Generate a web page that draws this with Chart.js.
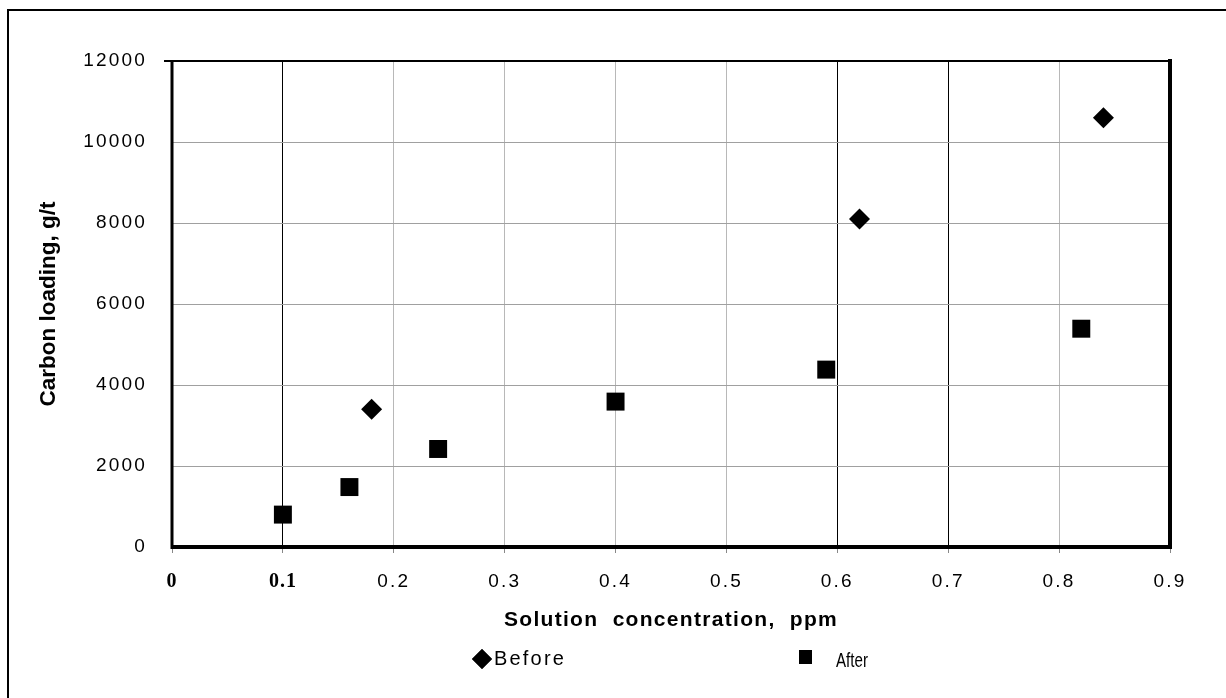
<!DOCTYPE html>
<html>
<head>
<meta charset="utf-8">
<script src="https://cdn.jsdelivr.net/npm/chart.js@4/dist/chart.umd.min.js"></script>
<style>
  html, body { margin: 0; padding: 0; background: #fff; }
  #wrap { width: 1226px; height: 698px; position: relative; }
</style>
</head>
<body>
<div id="wrap"><canvas id="c" width="1226" height="698"></canvas></div>
<script>
// ---- data ----
const beforeX = [0.18, 0.62, 0.84];
const beforeY = [3400, 8100, 10600];
const afterX = [0.10, 0.16, 0.24, 0.40, 0.59, 0.82];
const afterY = [800, 1480, 2420, 3590, 4380, 5390];
const seriesNames = ['Before', 'After'];
const xTitle = 'Solution  concentration,  ppm';
const yTitle = 'Carbon loading, g/t';
const xMin = 0, xMax = 0.9, xStep = 0.1;
const yMin = 0, yMax = 12000, yStep = 2000;
const darkXGrid = [0.1, 0.6, 0.7];

const toPts = (xs, ys) => xs.map((x, i) => ({ x: x, y: ys[i] }));

const SANS = "'Liberation Sans', Arial, sans-serif";
const SERIF = "'Liberation Serif', 'Times New Roman', serif";

// letter spacing by font size (tick labels are spaced out in the original)
const spacingBySize = { '19px': '2.2px', '21px': '1.3px', '20px': '1px' };
(function () {
  const proto = CanvasRenderingContext2D.prototype;
  const orig = proto.fillText;
  proto.fillText = function (t, x, y, m) {
    const mm = /(\d+(?:\.\d+)?px)/.exec(this.font || '');
    const sp = mm && spacingBySize[mm[1]] !== undefined ? spacingBySize[mm[1]] : '0px';
    if (this.__fixedSpacing === undefined) this.letterSpacing = sp;
    return m === undefined ? orig.call(this, t, x, y) : orig.call(this, t, x, y, m);
  };
})();

const framePlugin = {
  id: 'frame',
  beforeDraw(chart) {
    const ctx = chart.ctx;
    ctx.save();
    ctx.fillStyle = '#fff';
    ctx.fillRect(0, 0, chart.width, chart.height);
    ctx.strokeStyle = '#000';
    ctx.lineWidth = 2;
    ctx.beginPath();
    ctx.moveTo(8, chart.height);
    ctx.lineTo(8, 10);
    ctx.lineTo(chart.width, 10);
    ctx.stroke();
    ctx.restore();
  },
  afterDatasetsDraw(chart) {
    const ctx = chart.ctx;
    const a = chart.chartArea;
    ctx.save();
    ctx.strokeStyle = '#000';
    ctx.lineWidth = 2;
    ctx.beginPath();
    ctx.moveTo(a.left - 8, a.top);
    ctx.lineTo(a.right, a.top);
    ctx.stroke();
    ctx.lineWidth = 3;
    ctx.beginPath();
    ctx.moveTo(a.left, a.top);
    ctx.lineTo(a.left, a.bottom + 2);
    ctx.stroke();
    ctx.lineWidth = 4;
    ctx.beginPath();
    ctx.moveTo(a.right, a.top - 2);
    ctx.lineTo(a.right, a.bottom + 2);
    ctx.stroke();
    ctx.lineWidth = 4;
    ctx.beginPath();
    ctx.moveTo(a.left - 1, a.bottom);
    ctx.lineTo(a.right + 2, a.bottom);
    ctx.stroke();
    ctx.restore();
  },
  afterDraw(chart) {
    const ctx = chart.ctx;
    const a = chart.chartArea;
    const y = a.bottom + 112;
    const ds0 = chart.data.datasets[0];
    const ds1 = chart.data.datasets[1];
    ctx.save();
    ctx.fillStyle = '#000';
    // Before item
    const x0 = a.left + 310;
    Chart.helpers.drawPoint(ctx, { pointStyle: ds0.pointStyle, radius: 10, borderWidth: 0 }, x0, y);
    ctx.fill();
    ctx.font = '20px ' + SANS;
    ctx.textBaseline = 'middle';
    ctx.textAlign = 'left';
    ctx.letterSpacing = '2.2px';
    ctx.__fixedSpacing = true;
    ctx.fillText(ds0.label, x0 + 12, y);
    // After item
    const x1 = a.left + 633;
    ctx.fillRect(x1 - 6, y - 9, 13, 14);
    ctx.letterSpacing = '0px';
    ctx.translate(x1 + 31, y + 2);
    ctx.scale(0.72, 1);
    ctx.font = '21px ' + SANS;
    ctx.fillText(ds1.label, 0, 0);
    ctx.__fixedSpacing = undefined;
    ctx.restore();
  }
};

new Chart(document.getElementById('c'), {
  type: 'scatter',
  data: {
    datasets: [
      {
        label: seriesNames[0],
        data: toPts(beforeX, beforeY),
        pointStyle: 'rectRot',
        pointRadius: 10.5,
        pointHoverRadius: 10.5,
        backgroundColor: '#000',
        borderColor: '#000',
        borderWidth: 0
      },
      {
        label: seriesNames[1],
        data: toPts(afterX, afterY),
        pointStyle: 'rect',
        pointRadius: 12.7,
        pointHoverRadius: 12.7,
        backgroundColor: '#000',
        borderColor: '#000',
        borderWidth: 0
      }
    ]
  },
  options: {
    responsive: false,
    animation: false,
    events: [],
    layout: { padding: { left: 20, right: 56, top: 61, bottom: 60 } },
    plugins: { legend: { display: false }, tooltip: { enabled: false } },
    scales: {
      x: {
        type: 'linear',
        min: xMin, max: xMax,
        afterFit(s) { s.height = 91; },
        ticks: {
          stepSize: xStep,
          padding: 17,
          color: '#000',
          maxRotation: 0,
          callback: (v) => (Math.round(v * 10) / 10).toString(),
          font: (ctx) => {
            const v = ctx.tick ? ctx.tick.value : 1;
            return v < 0.15
              ? { family: SERIF, size: 20, weight: 'bold' }
              : { family: SANS, size: 19, weight: 'normal' };
          }
        },
        grid: {
          drawTicks: true,
          tickLength: 6,
          tickColor: '#888',
          color: (ctx) => {
            const v = ctx.tick ? Math.round(ctx.tick.value * 10) / 10 : 0;
            if (v === 0 || v === 0.9) return 'rgba(0,0,0,0)';
            return darkXGrid.includes(v) ? '#000' : '#b8b8b8';
          },
          lineWidth: 1
        },
        border: { display: false },
        title: {
          display: true,
          text: xTitle,
          color: '#000',
          font: { family: SANS, size: 21, weight: 'bold' },
          padding: { top: 0, bottom: 5 }
        }
      },
      y: {
        type: 'linear',
        min: yMin, max: yMax,
        afterFit(s) { s.width = 152; },
        ticks: {
          stepSize: yStep,
          padding: 25,
          color: '#000',
          callback: (v) => String(v),
          font: { family: SANS, size: 19 }
        },
        grid: {
          drawTicks: false,
          color: (ctx) => {
            const v = ctx.tick ? ctx.tick.value : 0;
            if (v === 0 || v === 12000) return 'rgba(0,0,0,0)';
            return '#a0a0a0';
          },
          lineWidth: 1
        },
        border: { display: false },
        title: {
          display: true,
          text: yTitle,
          color: '#000',
          font: { family: SANS, size: 22.5, weight: 'bold' },
          padding: { top: 15, bottom: 0 }
        }
      }
    }
  },
  plugins: [framePlugin]
});
</script>
</body>
</html>
